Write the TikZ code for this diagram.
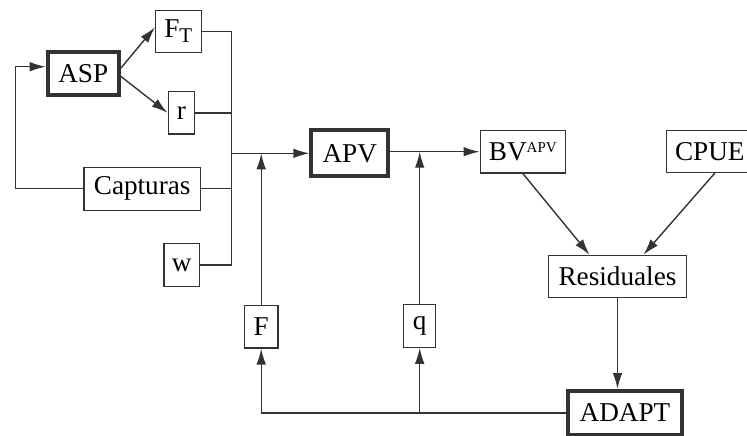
\documentclass[tikz,border=0pt]{standalone}
\usepackage{fontspec}
\setmainfont{Liberation Serif}
\usetikzlibrary{arrows.meta}
\begin{document}
\begin{tikzpicture}[x=0.5pt, y=-0.5pt,
    box/.style={draw=black!80, line width=0.6pt, inner sep=0pt,
        minimum height=21.2pt, font=\fontsize{13.6}{16}\selectfont},
    bigbox/.style={box, line width=2pt},
    line/.style={draw=black!80, line width=0.7pt},
    arr/.style={line, -{Latex[length=8pt, width=4.8pt]}}]
    \useasboundingbox (0,0) rectangle (747,435);
    % model blocks
    \node[bigbox, minimum width=35.5pt, minimum height=21.3pt] (ASP) at (83.2,73.3) {ASP};
    \node[bigbox, minimum width=38.3pt, minimum height=23pt] (APV) at (349.7,153.3) {APV};
    \node[bigbox, minimum width=56.7pt, minimum height=22pt] (ADAPT) at (625,413) {ADAPT};
    % inputs
    \node[box, minimum width=22.8pt, minimum height=20.8pt] (FT) at (178.3,31.3)
        {F\raisebox{-2.5pt}{\fontsize{10.5}{12}\selectfont T}};
    \node[box, minimum width=13.2pt] (r) at (181.3,112.8) {r};
    \node[box, minimum width=58.3pt, minimum height=21.5pt] (cap) at (142.2,188.7) {Capturas};
    \node[box, minimum width=17.8pt] (w) at (181.7,265) {w};
    \node[box, minimum width=16.7pt] (F) at (261.2,326.7) {F};
    \node[box, minimum width=15.9pt] (q) at (419.7,326) {q};
    % outputs
    \node[box, minimum width=42.7pt] (BV) at (522.8,151.7)
        {BV\raisebox{4pt}{\fontsize{7.5}{8}\selectfont APV}};
    \node[box, minimum width=43.2pt] (CPUE) at (709.8,151.3) {CPUE};
    \node[box, minimum width=68.7pt] (res) at (617.5,276.5) {Residuales};
    \coordinate (bus) at (231.7,0);
    \coordinate (loop) at (15.7,66.7);
    % ASP outputs
    \draw[arr] ([yshift=2.5pt]ASP.east) -- ([yshift=2pt]FT.west);
    \draw[arr] ([yshift=-1.5pt]ASP.east) -- (r.west);
    % collector into APV
    \draw[line] (FT.east) -| (w.east -| bus) -- (w.east);
    \draw[line] (r.east) -- (r.east -| bus);
    \draw[line] (cap.east) -- (cap.east -| bus);
    \draw[arr] (APV.west -| bus) -- (APV.west);
    \draw[arr] (F.north) -- (F.north |- APV.west);
    % APV to BV
    \draw[arr] (APV.east |- BV.west) -- (BV.west);
    \draw[arr] (q.north) -- (q.north |- BV.west);
    % feedback of catches
    \draw[arr] (cap.west) -| (loop) -- (loop -| ASP.west);
    % residuals
    \draw[arr] (BV.south) -- ([xshift=-14pt]res.north);
    \draw[arr] ([xshift=2.5pt]CPUE.south) -- ([xshift=13pt]res.north);
    \draw[arr] (res.south) -- (res.south |- ADAPT.north);
    % ADAPT back to F and q
    \draw[arr] (ADAPT.west) -| (F.south);
    \draw[arr] (q.south |- ADAPT.west) -- (q.south);
\end{tikzpicture}
\end{document}
